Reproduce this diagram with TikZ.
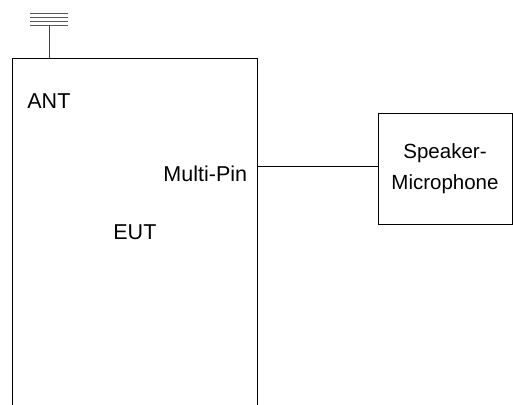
\documentclass[tikz,border=0pt]{standalone}
\usepackage{fontspec}
\setmainfont{Liberation Sans}
\usetikzlibrary{positioning}

\begin{document}
\begin{tikzpicture}[x=1pt,y=-1pt,thick]
\tikzstyle{box}=[rectangle,draw,line width=0.9pt,inner sep=0pt]
\tikzstyle{lbl}=[font=\fontsize{21.5}{24}\selectfont,inner sep=0pt]
\useasboundingbox (0,0) rectangle (513,404);
% EUT, open at the bottom edge
\node[box, minimum width=245pt, minimum height=370pt, anchor=north west] (eut) at (11.5,58) {};
\node[lbl, anchor=base west] (ant) at (27,108) {ANT};
\node[lbl, anchor=base east] (pin) at (247.5,181) {Multi-Pin};
\node[lbl, anchor=base west] (name) at (113,239) {EUT};
\node[box, minimum width=134pt, minimum height=111pt, align=center, font=\fontsize{20.5}{31}\selectfont] (spk) at (445,168.5) {Speaker-\\Microphone};
% antenna
\coordinate (top) at (49,25);
\draw[line width=0.9pt, black!75] (top) -- (eut.north west -| top);
\foreach \y in {13,17,21,25}
  \draw[line width=0.8pt, black!65] (30,\y) -- (68,\y);
\draw[line width=0.9pt] ([yshift=2.5pt]spk.west) -- ([yshift=2.5pt]spk.west -| eut.east);
\end{tikzpicture}
\end{document}
